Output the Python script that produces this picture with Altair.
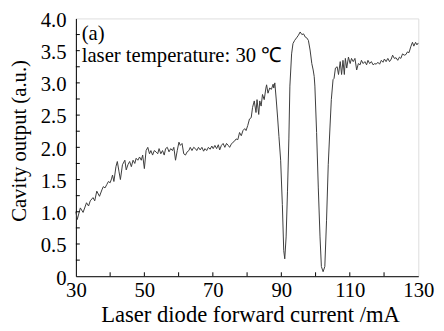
import altair as alt
import pandas as pd

# Cavity output vs laser diode forward current
current_mA = [
    30.0, 30.4, 31.3, 32.1, 33.1, 33.7, 34.2, 35.0, 35.5, 36.1, 36.9, 37.6, 38.0, 38.5, 39.0, 39.5,
    40.0, 40.4, 40.7, 41.1, 41.7, 42.1, 42.6, 43.0, 43.6, 44.3, 44.7, 45.2, 45.7, 46.2, 46.7, 47.2,
    47.6, 48.1, 48.6, 49.1, 49.5, 50.0, 50.5, 51.0, 51.5, 51.9, 52.4, 52.9, 53.4, 53.9, 54.3, 54.8,
    55.3, 55.8, 56.2, 56.7, 57.2, 57.7, 58.2, 58.6, 59.1, 59.6, 60.1, 60.5, 61.0, 61.5, 62.0, 62.5,
    63.0, 63.4, 63.9, 64.4, 64.9, 65.3, 65.8, 66.3, 66.8, 67.3, 67.7, 68.2, 68.7, 69.2, 69.7, 70.1,
    70.6, 71.1, 71.6, 72.0, 72.5, 73.0, 73.5, 74.0, 74.5, 74.9, 75.4, 75.9, 76.4, 76.8, 77.3, 77.8,
    78.3, 78.8, 79.3, 79.7, 80.2, 80.7, 81.2, 81.6, 82.1, 82.6, 82.9, 83.4, 83.7, 84.1, 84.5, 85.0,
    85.5, 85.7, 86.1, 86.6, 87.1, 87.6, 87.8, 88.1, 88.5, 88.9, 89.3, 89.8, 90.3, 90.7, 91.0, 91.4,
    91.8, 92.2, 92.5, 93.0, 93.4, 93.9, 94.6, 95.0, 95.5, 96.0, 96.5, 97.0, 97.4, 97.9, 98.4, 98.9,
    99.3, 99.6, 99.8, 100.3, 100.8, 101.3, 101.7, 102.2, 102.7, 103.2, 103.7, 104.2, 104.6, 105.1, 105.4, 105.8,
    106.3, 106.7, 107.2, 107.6, 108.0, 108.4, 108.7, 109.1, 109.6, 110.1, 110.5, 111.0, 111.5, 112.0, 112.5, 113.0,
    113.4, 113.9, 114.4, 114.9, 115.3, 115.8, 116.3, 116.8, 117.3, 117.7, 118.2, 118.7, 119.2, 119.7, 120.1, 120.6,
    121.1, 121.6, 122.1, 122.5, 123.0, 123.5, 124.0, 124.5, 124.9, 125.4, 125.9, 126.4, 126.8, 127.3, 127.8, 128.3,
    128.7, 129.2, 129.6, 130.0,
]
cavity_output = [
    1.00, 0.88, 1.06, 0.99, 1.14, 1.09, 1.17, 1.22, 1.17, 1.32, 1.24, 1.34, 1.39, 1.37, 1.42, 1.47,
    1.45, 1.51, 1.57, 1.47, 1.70, 1.78, 1.62, 1.50, 1.73, 1.80, 1.65, 1.73, 1.78, 1.70, 1.80, 1.75,
    1.83, 1.80, 1.85, 1.80, 1.88, 1.67, 1.95, 2.00, 1.90, 1.95, 1.88, 1.95, 1.93, 1.90, 1.98, 1.90,
    1.95, 1.88, 1.98, 2.00, 1.93, 1.98, 1.95, 2.00, 1.80, 1.95, 2.08, 2.03, 2.06, 1.90, 1.88, 1.93,
    1.95, 2.00, 1.95, 2.00, 1.98, 1.95, 2.00, 1.96, 2.00, 1.94, 1.98, 1.95, 2.00, 1.97, 2.02, 1.98,
    2.03, 1.98, 2.04, 1.96, 2.03, 2.06, 2.00, 2.06, 2.03, 2.00, 2.05, 2.08, 2.10, 2.13, 2.12, 2.23,
    2.18, 2.26, 2.29, 2.26, 2.34, 2.44, 2.46, 2.62, 2.72, 2.54, 2.74, 2.51, 2.72, 2.64, 2.82, 2.74,
    2.92, 2.97, 2.84, 2.92, 2.90, 2.98, 2.92, 3.00, 2.75, 2.47, 2.17, 1.80, 1.11, 0.40, 0.27, 0.61,
    1.32, 2.13, 2.95, 3.45, 3.61, 3.66, 3.71, 3.74, 3.79, 3.75, 3.76, 3.71, 3.70, 3.66, 3.51, 3.30,
    3.20, 3.10, 2.95, 2.23, 1.37, 0.61, 0.15, 0.07, 0.15, 0.86, 1.73, 2.30, 2.74, 3.05, 3.07, 3.23,
    3.25, 3.13, 3.33, 3.13, 3.35, 3.13, 3.38, 3.23, 3.40, 3.30, 3.38, 3.33, 3.38, 3.20, 3.30, 3.28,
    3.35, 3.30, 3.33, 3.28, 3.35, 3.30, 3.33, 3.28, 3.30, 3.29, 3.32, 3.29, 3.35, 3.32, 3.37, 3.33,
    3.38, 3.33, 3.37, 3.43, 3.38, 3.39, 3.35, 3.40, 3.38, 3.45, 3.43, 3.44, 3.48, 3.47, 3.56, 3.63,
    3.57, 3.63, 3.59, 3.62,
]

x_label_values = [30, 50, 70, 90, 110, 130]
x_minor_ticks = [40, 50, 60, 70, 80, 90, 100, 110, 120]
y_label_values = [0, 0.5, 1.0, 1.5, 2.0, 2.5, 3.0, 3.5, 4.0]
y_minor_ticks = [0.25, 0.5, 0.75, 1.0, 1.25, 1.5, 1.75, 2.0, 2.25, 2.5, 2.75, 3.0, 3.25, 3.5, 3.75]

annot_text = ["(a)", "laser temperature: 30 \u2103"]
annot_x = [31.7, 31.7]
annot_y = [3.76, 3.41]

FONT = "Liberation Serif"
FS = 21
W, H = 348, 262

df = pd.DataFrame({"current": current_mA, "output": cavity_output})
xscale = alt.Scale(domain=[30, 130], nice=False, zero=False)
yscale = alt.Scale(domain=[0, 4], nice=False)

xaxis = alt.Axis(
    values=x_label_values, ticks=False, grid=False, domainColor="black",
    labelFlush=False, labelOverlap=False,
    labelFont=FONT, labelFontSize=FS, labelColor="black", labelPadding=4,
    title="Laser diode forward current /mA", titleFont=FONT, titleFontSize=23,
    titleFontWeight="normal", titleColor="black", titleX=177, titleY=46,
    titleBaseline="alphabetic")
yaxis = alt.Axis(
    values=y_label_values, ticks=False, grid=False, domainColor="black",
    labelFlush=False, labelOverlap=False,
    labelExpr="datum.value == 0 ? '0' : format(datum.value, '.1f')",
    labelFont=FONT, labelFontSize=FS, labelColor="black", labelPadding=10, labelOffset=2,
    title="Cavity output (a.u.)", titleFont=FONT, titleFontSize=FS,
    titleFontWeight="normal", titleColor="black", titleX=-57, titleY=124,
    titleBaseline="middle", titleAngle=-90)

line = alt.Chart(df).mark_line(color="#3a3a3a", strokeWidth=1).encode(
    x=alt.X("current:Q", scale=xscale, axis=xaxis),
    y=alt.Y("output:Q", scale=yscale, axis=yaxis),
)

yt = alt.Chart(pd.DataFrame({"v": y_minor_ticks})).mark_rule(color="black", strokeWidth=1).encode(
    y=alt.Y("v:Q", scale=yscale, axis=yaxis), x=alt.value(0), x2=alt.value(4))
xt = alt.Chart(pd.DataFrame({"v": x_minor_ticks})).mark_rule(color="black", strokeWidth=1).encode(
    x=alt.X("v:Q", scale=xscale, axis=xaxis), y=alt.value(H), y2=alt.value(H - 4))

text = alt.Chart(pd.DataFrame({"t": annot_text, "x": annot_x, "y": annot_y})).mark_text(
    font=FONT, fontSize=FS, align="left", baseline="middle", color="black").encode(
    x=alt.X("x:Q", scale=xscale, axis=xaxis), y=alt.Y("y:Q", scale=yscale, axis=yaxis), text="t:N")

chart = alt.layer(line, yt, xt, text).properties(
    width=W, height=H,
    autosize=alt.AutoSizeParams(type="none"),
    padding={"left": 69, "top": 8, "right": 18, "bottom": 49},
).configure_view(stroke="#808080", strokeWidth=1).configure(background="white")

chart.save("out.html", embed_options={"renderer": "svg", "actions": False})
